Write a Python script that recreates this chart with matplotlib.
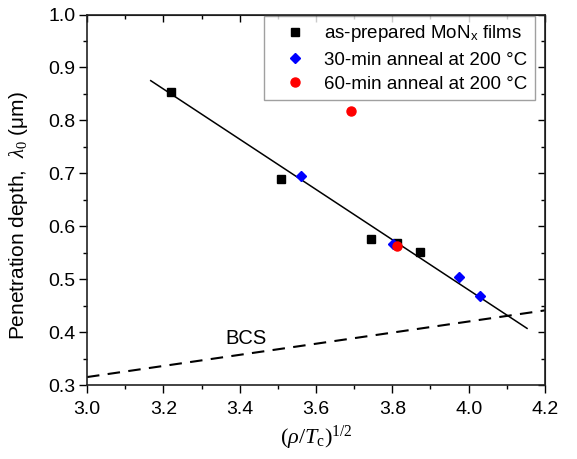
import matplotlib
matplotlib.use("Agg")
import matplotlib.pyplot as plt

# data
asprep_x = [3.220, 3.508, 3.743, 3.813, 3.873]
asprep_y = [0.853, 0.690, 0.575, 0.568, 0.552]

anneal30_x = [3.560, 3.802, 3.975, 4.031]
anneal30_y = [0.694, 0.566, 0.505, 0.468]

anneal60_x = [3.691, 3.813]
anneal60_y = [0.818, 0.562]

# linear fit and BCS estimate, end points only
fit_x = [3.167, 4.153]
fit_y = [0.875, 0.407]
bcs_x = [3.0, 4.2]
bcs_y = [0.315, 0.441]

x_major = [3.0, 3.2, 3.4, 3.6, 3.8, 4.0, 4.2]
x_minor = [3.1, 3.3, 3.5, 3.7, 3.9, 4.1]
y_major = [0.3, 0.4, 0.5, 0.6, 0.7, 0.8, 0.9, 1.0]
y_minor = [0.35, 0.45, 0.55, 0.65, 0.75, 0.85, 0.95]

plt.rcParams["font.family"] = ["Liberation Sans", "DejaVu Sans"]
plt.rcParams["font.size"] = 14
plt.rcParams["mathtext.fontset"] = "custom"
plt.rcParams["mathtext.rm"] = "Liberation Sans"
plt.rcParams["mathtext.sf"] = "Liberation Serif"
plt.rcParams["mathtext.it"] = "Liberation Serif:italic"

fig = plt.figure(figsize=(5.77, 4.59), dpi=100)
ax = fig.add_axes([0.1508, 0.1612, 0.7937, 0.8072])

ax.plot(fit_x, fit_y, color="black", lw=1.1, zorder=2)
ax.plot(bcs_x, bcs_y, color="black", lw=1.5, linestyle=(0, (6, 4)), zorder=2)

ax.plot(asprep_x, asprep_y, "s", color="black", ms=5.6, zorder=3,
        label=r"as-prepared MoN$_\mathrm{x}$ films")
ax.plot(anneal30_x, anneal30_y, "D", color="blue", ms=4.8, zorder=3,
        label="30-min anneal at 200 °C")
ax.plot(anneal60_x, anneal60_y, "o", color="red", ms=6.5, zorder=3,
        label="60-min anneal at 200 °C")

ax.text(3.416, 0.388, "BCS", ha="center", va="center", fontsize=14.5)

ax.set_xlim(3.0, 4.2)
ax.set_ylim(0.3, 1.0)
ax.set_xticks(x_major)
ax.set_xticks(x_minor, minor=True)
ax.set_yticks(y_major)
ax.set_yticks(y_minor, minor=True)
ax.xaxis.set_major_formatter(matplotlib.ticker.FormatStrFormatter("%.1f"))
ax.yaxis.set_major_formatter(matplotlib.ticker.FormatStrFormatter("%.1f"))

ax.tick_params(which="both", direction="out", top=False, right=False,
               width=1, labelsize=14)
ax.tick_params(axis="y", pad=3)
ax.tick_params(axis="x", pad=6)
ax.tick_params(which="major", length=5.5)
ax.tick_params(which="minor", length=3)

# mirrored ticks on top and right point inward
sec_x = ax.secondary_xaxis("top")
sec_x.set_xticks(x_major)
sec_x.set_xticks(x_minor, minor=True)
sec_x.tick_params(which="both", direction="in", labeltop=False, width=1)
sec_x.tick_params(which="major", length=5)
sec_x.tick_params(which="minor", length=3)
sec_y = ax.secondary_yaxis("right")
sec_y.set_yticks(y_major)
sec_y.set_yticks(y_minor, minor=True)
sec_y.tick_params(which="both", direction="in", labelright=False, width=1)
sec_y.tick_params(which="major", length=5)
sec_y.tick_params(which="minor", length=3)

for sp in ax.spines.values():
    sp.set_linewidth(1.2)
    sp.set_color("#222222")

ax.set_xlabel(r"$\mathsf{(}\rho\mathsf{/}T_\mathsf{c}\mathsf{)}^{\mathsf{1/2}}$", fontsize=16)
ax.set_ylabel(r"Penetration depth,  $\lambda_\mathsf{0}$ ($\mathrm{\mu}$m)", fontsize=15)
ax.xaxis.set_label_coords(0.5, -0.105)
ax.yaxis.set_label_coords(-0.125, 0.4575)

leg = ax.legend(loc="upper right", bbox_to_anchor=(0.978, 0.996), borderaxespad=0,
                fancybox=False, fontsize=13.5, handlelength=2.5, handletextpad=0.3,
                labelspacing=0.38, borderpad=0.4, numpoints=1)
leg.get_frame().set_edgecolor("#888888")
leg.get_frame().set_linewidth(1.0)

fig.savefig("out.png", dpi=100)
